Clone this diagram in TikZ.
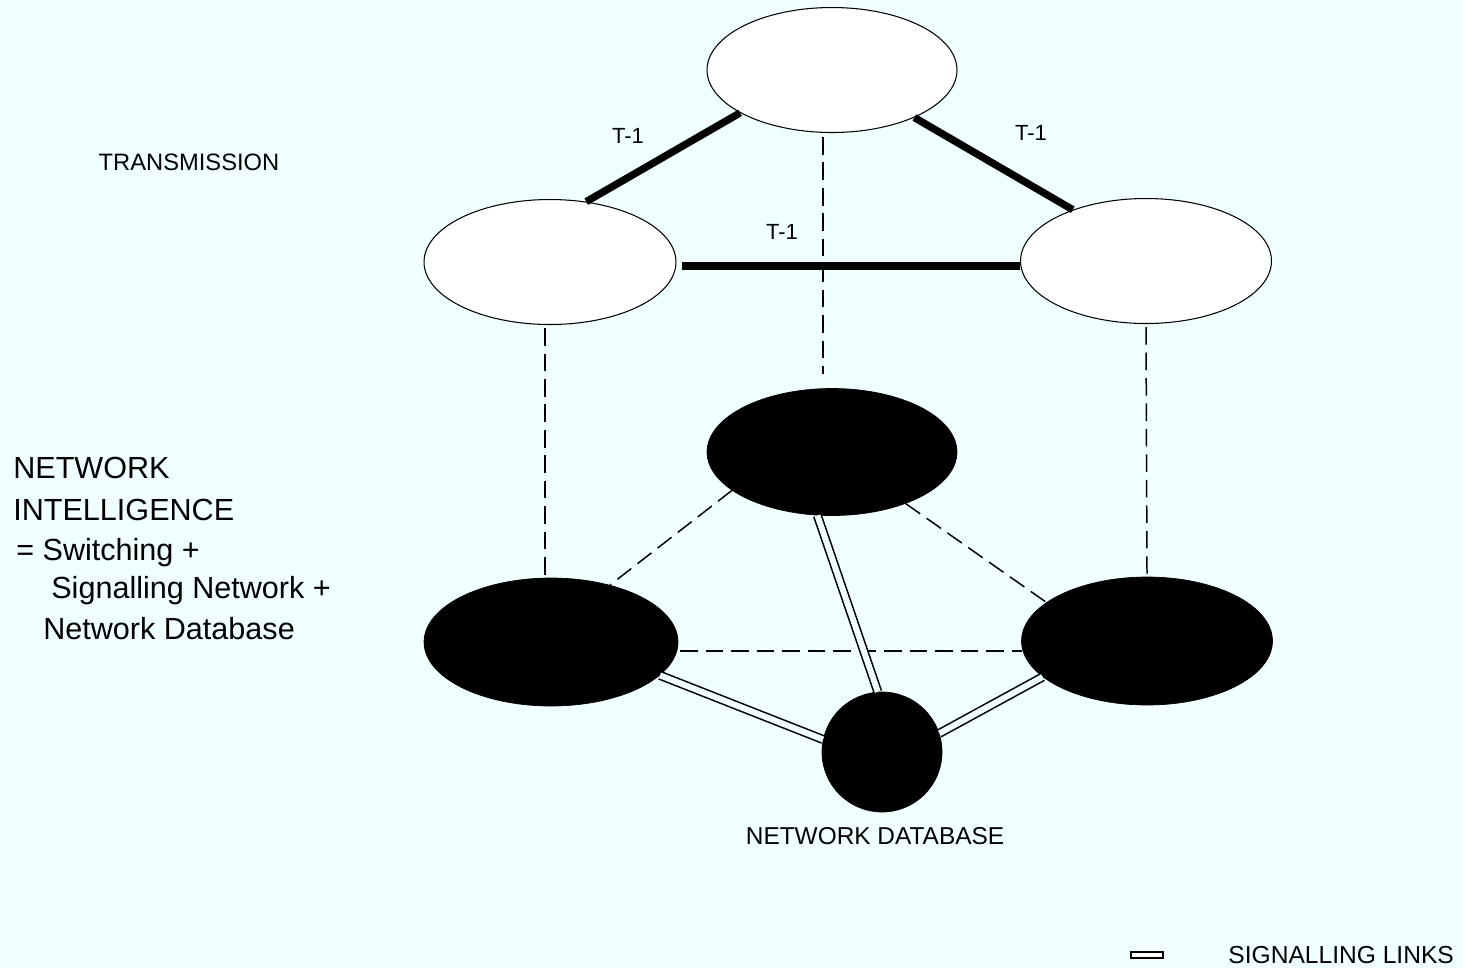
\documentclass[tikz,border=0pt]{standalone}
\usepackage{fontspec}
\setmainfont{Liberation Sans}
\usetikzlibrary{shapes.geometric,calc}
\definecolor{bg}{RGB}{240,255,255}
\begin{document}
\begin{tikzpicture}[x=0.02cm,y=-0.02cm,
  white ell/.style={ellipse,draw,line width=0.6pt,fill=white,minimum width=5cm,minimum height=2.5cm,inner sep=0pt},
  black ell/.style={ellipse,draw,fill=black,minimum width=5cm,minimum height=2.54cm,inner sep=0pt},
  tone/.style={line width=4.2pt},
  vdash/.style={line width=0.85pt,dash pattern=on 10pt off 4.5pt},
  sig/.style={double=bg,double distance=3.4pt,line width=0.9pt},
  lbl/.style={inner sep=0pt,font=\fontsize{12.5}{14}\selectfont},
  big/.style={inner sep=0pt,anchor=west,font=\fontsize{17.4}{20}\selectfont}]
\fill[bg] (0,0) rectangle (1463,968);
\useasboundingbox (0,0) rectangle (1463,968);
% transmission layer
\node[white ell] (top) at (832,70) {};
\node[white ell,minimum width=5.04cm] (lt) at (550,262) {};
\node[white ell,minimum width=5.02cm] (rt) at (1146,261) {};
% intelligence layer
\node[black ell] (mid) at (832,452) {};
\node[black ell,minimum width=5.08cm,minimum height=2.56cm] (lb) at (551,642) {};
\node[black ell,minimum width=5.02cm,minimum height=2.56cm] (rb) at (1147,641) {};
\node[circle,draw,fill=black,minimum size=2.4cm,inner sep=0pt] (db) at (882,752) {};
% T-1 links
\draw[tone] (lt.59) -- (top.205);
\draw[tone] (top.-30) -- (rt.145);
\draw[tone] ($(lt.east)+(5,4)$) -- ($(rt.west)+(0,5)$);
% vertical dashed
\draw[vdash] ($(top.south)+(-9,4)$) -- ($(mid.north)+(-9,-14)$);
\draw[vdash] ($(lt.south)+(-5,3)$) -- ($(lb.north)+(-6,-2)$);
\draw[vdash] ($(rt.south)+(0,3)$) -- ($(rb.north)+(0,-3)$);
% dashed between switches
\draw[vdash] (mid.201) -- (lb.44);
\draw[vdash] (mid.-35) -- (rb.159);
\draw[vdash] ($(lb.east)+(2,9)$) -- ($(rb.west)+(1,10)$);
% signalling links
\draw[sig] (mid.-103) -- (db.94);
\draw[sig] (lb.-17) -- (db.168);
\draw[sig] (db.18) -- (rb.199);
% texts
\node[lbl,font=\fontsize{13.5}{15}\selectfont] (trans) at (189,162) {TRANSMISSION};
\node[lbl] (t1a) at (628,136) {T-1};
\node[lbl] (t1b) at (1031,133) {T-1};
\node[lbl] (t1c) at (782,232) {T-1};
\node[big] (ni1) at (13,468) {NETWORK};
\node[big] (ni2) at (13,510) {INTELLIGENCE};
\node[big] (ni3) at (16,553) {= Switching +};
\node[big] (ni4) at (51,591) {Signalling Network +};
\node[big] (ni5) at (43,629) {Network Database};
\node[lbl,font=\fontsize{13.9}{16}\selectfont] (ndb) at (875,836) {NETWORK DATABASE};
% legend
\node[draw,fill=white,line width=0.7pt,minimum width=0.64cm,minimum height=0.12cm,inner sep=0pt] (legsym) at (1147,955) {};
\node[lbl,anchor=west,font=\fontsize{14}{16}\selectfont] (legtxt) at (1228,955) {SIGNALLING LINKS};
\end{tikzpicture}
\end{document}
